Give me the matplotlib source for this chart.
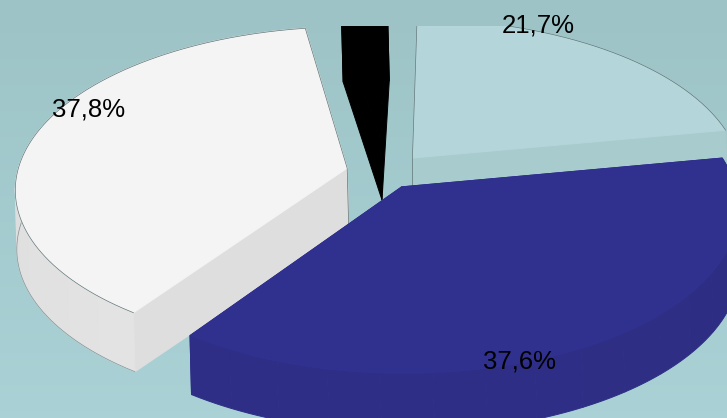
import numpy as np
import matplotlib
matplotlib.use("Agg")
import matplotlib.pyplot as plt
from matplotlib.colors import to_rgb
from matplotlib.patches import Polygon, Rectangle

shares = [21.7, 37.6, 37.8, 2.9]
share_labels = ["21,7%", "37,6%", "37,8%"]
top_colors = ["#b4d6da", "#30308f", "#f4f4f4", "#000000"]
side_colors = ["#a8cbcd", "#2d2d84", "#dedede", "#000000"]
arc_dark = ["#a8cbcd", "#2c2c7e", "#d6d6d6", "#000000"]
arc_light = ["#a8cbcd", "#2e2e86", "#e4e4e4", "#000000"]
# how far each slice is pulled out of the pie, in disc units
offsets_x = [0.084, 0.05, -0.115, -0.014]
offsets_y = [-0.044, 0.136, 0.02, -0.155]
radii = [1, 1, 1, 0.865]
draw_order = [0, 3, 2, 1]  # back slices first

label_x = [538, 519, 89]
label_y = [25, 362, 110]

start_angle = -88.5
cx, cy = 385, 165
A, B, k = 328, 158, 0.122  # ellipse axes and perspective strength
depth = 59
clip_top = 26

plt.rcParams['font.family'] = ['Liberation Sans', 'DejaVu Sans']

fig = plt.figure(figsize=(7.27, 4.18), dpi=100)
ax = fig.add_axes([0, 0, 1, 1])
ax.set_xlim(0, 727)
ax.set_ylim(418, 0)
ax.axis('off')

# background gets slightly lighter towards the bottom
bg = np.linspace(to_rgb("#9dc3c6"), to_rgb("#aad2d6"), 64).reshape(64, 1, 3)
ax.imshow(bg, extent=[0, 727, 418, 0], aspect='auto', zorder=0)

clip = Rectangle((0, clip_top), 727, 418 - clip_top, transform=ax.transData)


def project(X, Y):
    s = 1 / (1 - k * Y)
    return np.column_stack([cx + A * X * s, cy + B * Y * s])


def add_poly(points, color, z):
    poly = Polygon(points, closed=True, facecolor=color, edgecolor=color,
                   linewidth=0.7, zorder=z)
    ax.add_patch(poly)
    poly.set_clip_path(clip)


def add_line(points, color, z):
    line, = ax.plot(points[:, 0], points[:, 1], color=color, lw=0.5, zorder=z)
    line.set_clip_path(clip)


angles = start_angle + 360 * np.concatenate([[0], np.cumsum(shares)]) / 100
shift = np.array([1.5, depth])

for n, i in enumerate(draw_order):
    z = 2 + n
    t = np.radians(np.arange(angles[i], angles[i + 1] + 0.25, 0.5))
    apex = project(np.array([offsets_x[i]]), np.array([offsets_y[i]]))
    arc = project(offsets_x[i] + radii[i] * np.cos(t), offsets_y[i] + radii[i] * np.sin(t))

    # straight side walls
    for end in (arc[0], arc[-1]):
        add_poly([apex[0], end, end + shift, apex[0] + shift], side_colors[i], z)

    # curved outer wall, in thin slats like the original renderer
    dark = np.array(to_rgb(arc_dark[i]))
    light = np.array(to_rgb(arc_light[i]))
    step = 16
    for j in range(0, len(arc) - 1, step):
        seg = arc[j:j + step + 1]
        f = 0.5 + 0.5 * np.cos(t[j] - np.pi / 2)
        add_poly(np.vstack([seg, (seg + shift)[::-1]]), dark + (light - dark) * f, z)
    if i == 2:
        add_line(arc + shift, "#7f9294", z)

    # top surface
    add_poly(np.vstack([apex, arc]), top_colors[i], z)

    # hairlines round the pale slices, not along their front edge
    if i == 0:
        add_line(np.vstack([apex + shift * [0, 0.47], apex, arc]), "#5f7476", z)
    if i == 2:
        add_line(np.vstack([arc, apex, apex + shift]), "#5f7476", z)

for name, x, y in zip(share_labels, label_x, label_y):
    ax.text(x, y, name, fontsize=18.5, color="black", ha='center', va='center', zorder=20)

fig.savefig("out.png", dpi=100)
